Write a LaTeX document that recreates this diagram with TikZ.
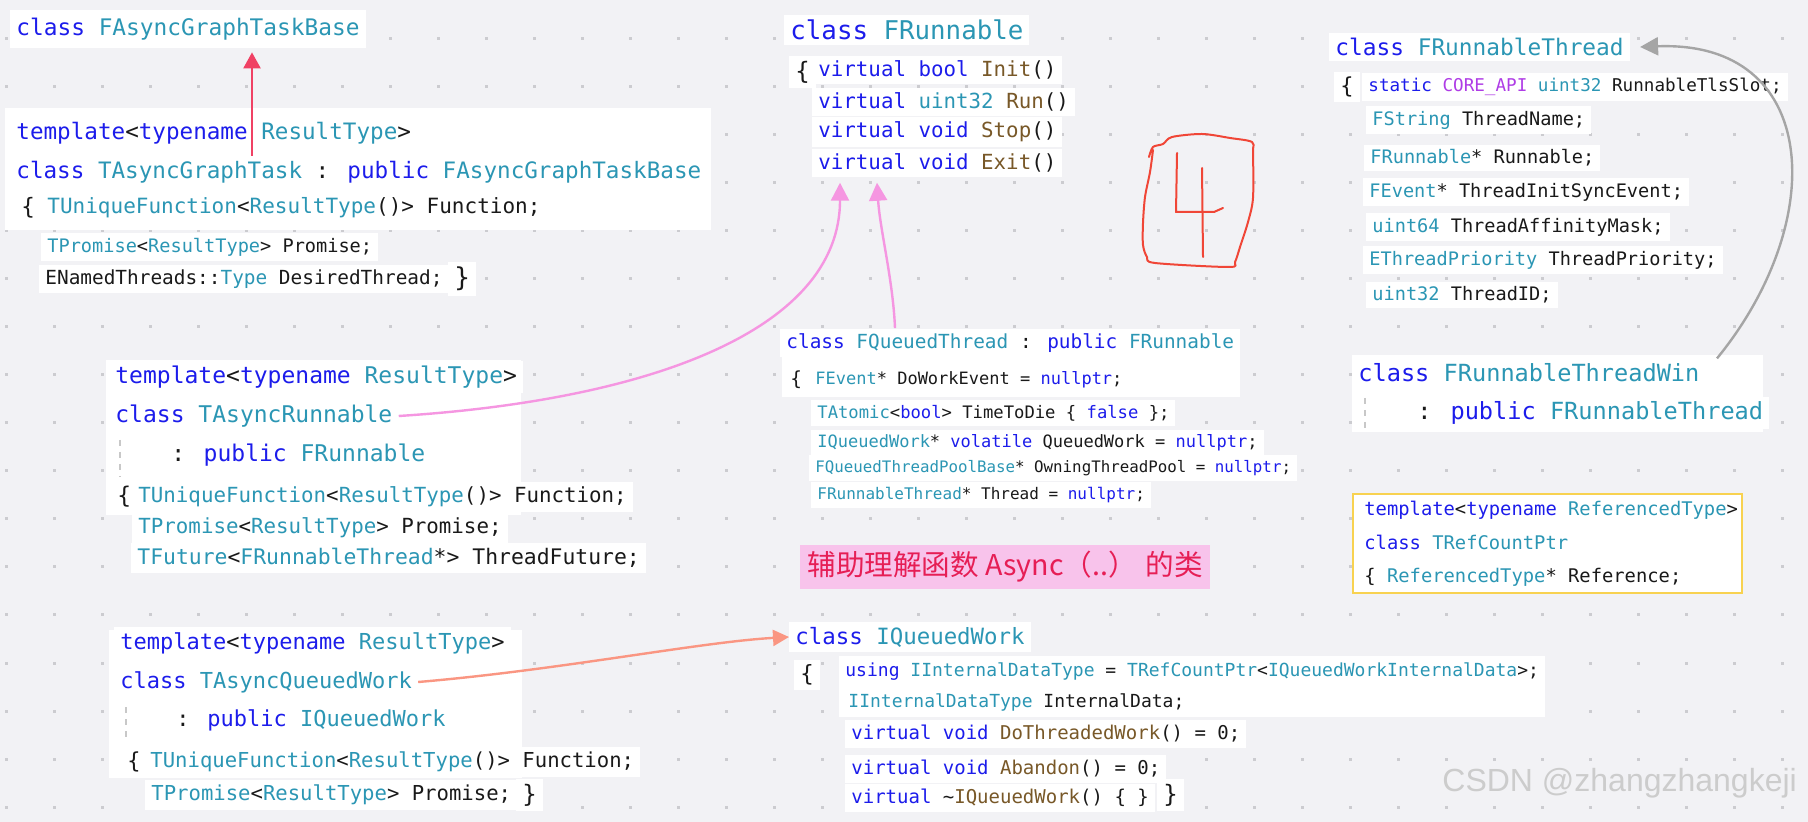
\documentclass[tikz,border=0pt]{standalone}
\usepackage{fontspec}
\usepackage{tikz}
\usetikzlibrary{arrows.meta,positioning}
\newfontfamily\codefont{DejaVu Sans Mono}
\newfontfamily\cjkfont{Noto Sans CJK SC}
\newfontfamily\wmfont{Liberation Sans}
\definecolor{bgc}{RGB}{242,242,245}
\definecolor{dotc}{RGB}{204,204,208}
\definecolor{idc}{RGB}{25,25,25}
\definecolor{kwc}{RGB}{28,28,235}
\definecolor{tyc}{RGB}{43,150,180}
\definecolor{fnc}{RGB}{120,88,40}
\definecolor{mcc}{RGB}{175,60,230}
\definecolor{pinkc}{RGB}{245,150,225}
\definecolor{salmonc}{RGB}{250,150,130}
\definecolor{redc}{RGB}{240,65,100}
\definecolor{grayc}{RGB}{165,165,165}
\definecolor{handc}{RGB}{240,70,55}
\definecolor{notefill}{RGB}{248,195,235}
\definecolor{notetext}{RGB}{230,30,85}
\definecolor{goldc}{RGB}{248,210,80}
\definecolor{guidec}{RGB}{200,200,200}
\newcommand{\ckw}[1]{\textcolor{kwc}{#1}}
\newcommand{\cty}[1]{\textcolor{tyc}{#1}}
\newcommand{\cfn}[1]{\textcolor{fnc}{#1}}
\newcommand{\cmc}[1]{\textcolor{mcc}{#1}}

\begin{document}
\begin{tikzpicture}[x=0.5pt, y=-0.5pt,
    codeln/.style={anchor=west, fill=white, inner xsep=3pt, inner ysep=2.5pt, text=idc, font=\codefont\fontsize{#1}{#1}\selectfont},
    codeln/.default=10,
    plainln/.style={codeln=#1, fill=none},
    panel/.style={fill=white},
    guide/.style={draw=guidec, dashed, line width=0.6pt},
    pinkarr/.style={-{Triangle[length=9pt, width=9pt]}, draw=pinkc, line width=1.2pt},
    redarr/.style={-{Triangle[length=8pt, width=8.5pt]}, draw=redc, line width=1.2pt},
    salarr/.style={-{Triangle[length=8pt, width=8pt]}, draw=salmonc, line width=1.2pt},
    grayarr/.style={-{Triangle[length=9pt, width=9pt]}, draw=grayc, line width=1.2pt},
    hand/.style={draw=handc, line width=1pt, line cap=round, line join=round},
    note/.style={anchor=west, fill=notefill, text=notetext, inner xsep=3.5pt, minimum height=21.5pt, font=\cjkfont\fontsize{14.3}{14.3}\selectfont}
]
\useasboundingbox (0,0) rectangle (1808,822);
\fill[bgc] (0,0) rectangle (1808,822);
\foreach \x in {6,54,...,1806}
  \foreach \y in {39,87,...,822}
    \fill[dotc] (\x-1.5,\y-1.5) rectangle ++(3,3);

\fill[panel] (5,108) rectangle (711,230);
\fill[panel] (1352,355) rectangle (1763,432);
\fill[panel] (782,330) rectangle (1240,397);
\fill[panel] (106,360) rectangle (521,515);
\fill[panel] (109,630) rectangle (522,778);
\fill[panel] (839,656) rectangle (1545,717);
\draw[fill=white, draw=goldc, line width=1pt] (1353,494) rectangle (1742,593);

\node[codeln=11.4, minimum height=19pt] (fbase) at (10,29) {\ckw{class} \cty{FAsyncGraphTaskBase}};

\node[codeln=11.3] (gt1) at (10,133) {\ckw{template}<\ckw{typename} \cty{ResultType}>};
\node[codeln=11.3] (gt2) at (10,172) {\ckw{class} \cty{TAsyncGraphTask} : \ckw{public} \cty{FAsyncGraphTaskBase}};
\node[codeln=11.3] (gtb) at (15,208) {\{};
\node[codeln=10.5] (gt3) at (41,208) {\cty{TUniqueFunction}<\cty{ResultType}()> Function;};
\node[codeln=9.3] (gt4) at (41,247) {\cty{TPromise}<\cty{ResultType}> Promise;};
\node[codeln=9.7] (gt5) at (39,279) {ENamedThreads::\cty{Type} DesiredThread;};
\node[codeln=13] (gte) at (448,279) {\}};

\node[codeln=12.9] (frun) at (784,30) {\ckw{class} \cty{FRunnable}};
\node[codeln=12] (frb) at (789,72) {\{};
\node[codeln=10.4] (fr1) at (812,70) {\ckw{virtual} \ckw{bool} \cfn{Init}()};
\node[codeln=10.4] (fr2) at (812,102) {\ckw{virtual} \cty{uint32} \cfn{Run}()};
\node[codeln=10.4] (fr3) at (812,132) {\ckw{virtual} \ckw{void} \cfn{Stop}()};
\node[codeln=10.4] (fr4) at (812,163) {\ckw{virtual} \ckw{void} \cfn{Exit}()};

\node[codeln=11.4] (frt) at (1329,47) {\ckw{class} \cty{FRunnableThread}};
\node[codeln=11] (frtb) at (1334,87) {\{};
\node[codeln=8.8] (frt1) at (1362,87) {\ckw{static} \cmc{CORE\_API} \cty{uint32} RunnableTlsSlot;};
\node[codeln=9.3] (frt2) at (1366,120) {\cty{FString} ThreadName;};
\node[codeln=9.3] (frt3) at (1364,158) {\cty{FRunnable}* Runnable;};
\node[codeln=9.3] (frt4) at (1363,192) {\cty{FEvent}* ThreadInitSyncEvent;};
\node[codeln=9.3] (frt5) at (1366,227) {\cty{uint64} ThreadAffinityMask;};
\node[codeln=9.3] (frt6) at (1363,260) {\cty{EThreadPriority} ThreadPriority;};
\node[codeln=9.3] (frt7) at (1366,295) {\cty{uint32} ThreadID;};

\node[codeln=11.8] (frw1) at (1352,373) {\ckw{class} \cty{FRunnableThreadWin}};
\node[codeln=11.8] (frw2) at (1411,413) {: \ckw{public} \cty{FRunnableThread}};
\draw[guide] (1365,398) -- (1365,430);

\node[codeln=9.7] (fq1) at (780,343) {\ckw{class} \cty{FQueuedThread} : \ckw{public} \cty{FRunnable}};
\node[codeln=9.7] (fqb) at (784,380) {\{};
\node[codeln=8.5] (fq2) at (809,380) {\cty{FEvent}* DoWorkEvent = \ckw{nullptr};};
\node[codeln=8.6] (fq3) at (811,413) {\cty{TAtomic}<\ckw{bool}> TimeToDie \{ \ckw{false} \};};
\node[codeln=8.5] (fq4) at (811,443) {\cty{IQueuedWork}* \ckw{volatile} QueuedWork = \ckw{nullptr};};
\node[codeln=7.9] (fq5) at (809,468) {\cty{FQueuedThreadPoolBase}* OwningThreadPool = \ckw{nullptr};};
\node[codeln=8.0] (fq6) at (811,495) {\cty{FRunnableThread}* Thread = \ckw{nullptr};};

\node[codeln=11.5] (ar1) at (109,377) {\ckw{template}<\ckw{typename} \cty{ResultType}>};
\node[codeln=11.5] (ar2) at (109,416) {\ckw{class} \cty{TAsyncRunnable}};
\node[codeln=11.5] (ar3) at (165,455) {: \ckw{public} \cty{FRunnable}};
\draw[guide] (120,440) -- (120,477);
\node[codeln=11.5] (arb) at (111,497) {\{};
\node[codeln=10.4] (ar4) at (132,497) {\cty{TUniqueFunction}<\cty{ResultType}()> Function;};
\node[codeln=10.4] (ar5) at (132,528) {\cty{TPromise}<\cty{ResultType}> Promise;};
\node[codeln=10.7] (ar6) at (131,558) {\cty{TFuture}<\cty{FRunnableThread}*> ThreadFuture;};

\node[codeln=11] (aq1) at (114,643) {\ckw{template}<\ckw{typename} \cty{ResultType}>};
\node[codeln=11] (aq2) at (114,682) {\ckw{class} \cty{TAsyncQueuedWork}};
\node[codeln=11] (aq3) at (170,720) {: \ckw{public} \cty{IQueuedWork}};
\draw[guide] (126,707) -- (126,743);
\node[codeln=11] (aqb) at (121,762) {\{};
\node[codeln=10.3] (aq4) at (144,762) {\cty{TUniqueFunction}<\cty{ResultType}()> Function;};
\node[codeln=10.3] (aq5) at (145,795) {\cty{TPromise}<\cty{ResultType}> Promise;};
\node[codeln=12] (aqe) at (516,795) {\}};

\node[codeln=11.2] (iq1) at (789,637) {\ckw{class} \cty{IQueuedWork}};
\node[codeln=11.2] (iqb) at (794,675) {\{};
\node[codeln=9.0] (iq2) at (839,672) {\ckw{using} \cty{IInternalDataType} = \cty{TRefCountPtr}<\cty{IQueuedWorkInternalData}>;};
\node[codeln=9.0] (iq3) at (842,702) {\cty{IInternalDataType} InternalData;};
\node[codeln=9.5] (iq4) at (845,734) {\ckw{virtual} \ckw{void} \cfn{DoThreadedWork}() = 0;};
\node[codeln=9.5] (iq5) at (845,769) {\ckw{virtual} \ckw{void} \cfn{Abandon}() = 0;};
\node[codeln=9.5] (iq6) at (845,798) {\ckw{virtual} \textasciitilde\cfn{IQueuedWork}() \{ \}};
\node[codeln=12] (iqe) at (1157,795) {\}};

\node[plainln=9.4] (rc1) at (1358,510) {\ckw{template}<\ckw{typename} \cty{ReferencedType}>};
\node[plainln=9.4] (rc2) at (1358,542) {\ckw{class} \cty{TRefCountPtr}};
\node[plainln=9.4] (rc3) at (1358,577) {\{ \cty{ReferencedType}* Reference;};

\node[note] (hint) at (800,567) {辅助理解函数 Async（..） 的类};

\node[anchor=west, inner sep=0pt, text=black!20, font=\wmfont\fontsize{16}{16}\selectfont] (wm) at (1442,783) {CSDN @zhangzhangkeji};

\draw[hand] plot[smooth, tension=0.5] coordinates {(1149,157) (1153,147) (1163,144) (1172,137) (1202,134) (1230,138) (1252,142) (1253,152) (1253,198) (1248,222) (1240,247) (1235,262) (1229,267) (1155,263) (1147,257) (1143,245) (1143,223) (1145,197) (1150,172) (1153,150)};
\draw[hand] (1177,153) -- (1176,212) -- (1214,212) -- (1223,208);
\draw[hand] (1202,168) -- (1203,257);

\draw[redarr] ([xshift=121pt]gt2.north west) -- ([xshift=121pt, yshift=-2pt]fbase.south west);
\draw[pinkarr] (ar2.east) .. controls (650,400) and (840,330) .. ([shift={(14pt,-2.5pt)}]fr4.south west);
\draw[pinkarr] ([xshift=57.5pt]fq1.north west) .. controls (893,280) and (880,230) .. ([shift={(32.5pt,-2.5pt)}]fr4.south west);
\draw[salarr] (aq2.east) .. controls (560,670) and (700,642) .. (iq1.west);
\draw[grayarr] ([xshift=182.5pt]frw1.north west) .. controls (1830,220) and (1820,40) .. ([xshift=5pt]frt.east);
\end{tikzpicture}
\end{document}
